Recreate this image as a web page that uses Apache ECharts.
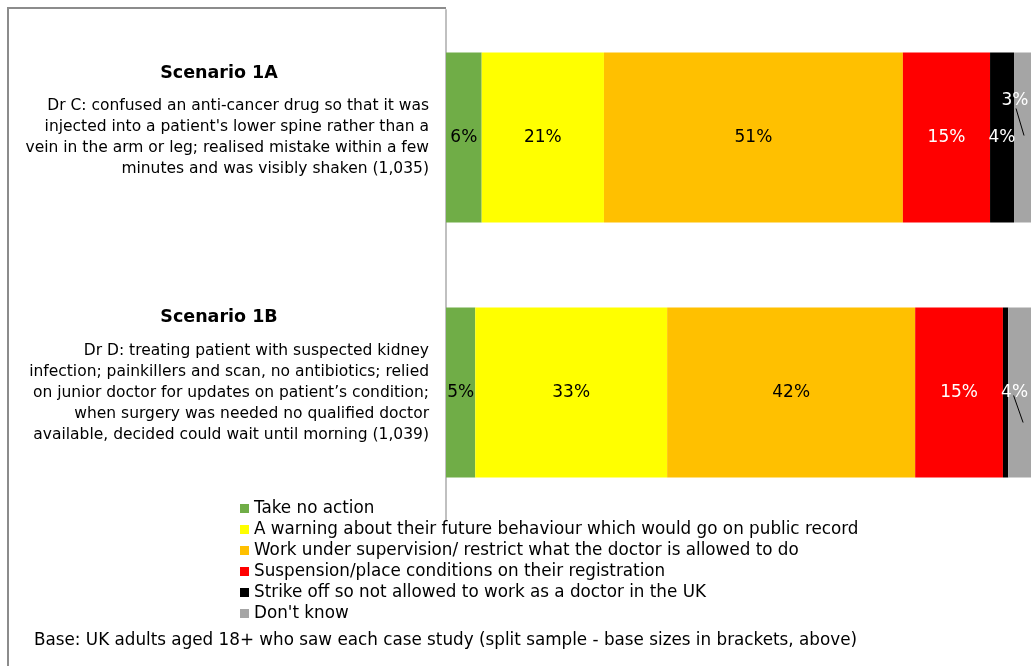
<!DOCTYPE html>
<html>
<head>
<meta charset="utf-8">
<script src="https://cdn.jsdelivr.net/npm/echarts@6/dist/echarts.min.js"></script>
<style>
  html, body { margin: 0; padding: 0; background: #fff; }
  #main { width: 1033px; height: 666px; }
</style>
</head>
<body>
<div id="main"></div>
<script>
// scenarios, top to bottom
var categories = ['Scenario 1A', 'Scenario 1B'];
var descriptions = [
  ['Dr C: confused an anti-cancer drug so that it was',
   "injected into a patient's lower spine rather than a",
   'vein in the arm or leg; realised mistake within a few',
   'minutes and was visibly shaken (1,035)'],
  ['Dr D: treating patient with suspected kidney',
   'infection; painkillers and scan, no antibiotics; relied',
   'on junior doctor for updates on patient\u2019s condition;',
   'when surgery was needed no qualified doctor',
   'available, decided could wait until morning (1,039)']
];
var seriesNames = [
  'Take no action',
  'A warning about their future behaviour which would go on public record',
  'Work under supervision/ restrict what the doctor is allowed to do',
  'Suspension/place conditions on their registration',
  'Strike off so not allowed to work as a doctor in the UK',
  "Don't know"
];
// % per response, one array per scenario
var values1A = [6.1, 20.9, 51.1, 14.9, 4.1, 2.9];
var values1B = [5.0, 32.8, 42.4, 15.0, 0.9, 3.9];
var baseNote = 'Base: UK adults aged 18+ who saw each case study (split sample - base sizes in brackets, above)';

var colors = ['#70AD47', '#FFFF00', '#FFC000', '#FF0000', '#000000', '#A5A5A5'];
var labelColors = ['#000', '#000', '#000', '#fff', '#fff', '#fff'];
var font = '"DejaVu Sans", Verdana, sans-serif';

// the "Don't know" labels are moved off the bar and get a leader line
var moved = [
  { offset: [-7.5, -37], from: [-6.5, -29], to: [1.5, -2] },
  { offset: [-5, 0], from: [-6, 3], to: [3.5, 30] }
];

var chart = echarts.init(document.getElementById('main'));

var series = seriesNames.map(function (name, i) {
  return {
    name: name,
    type: 'bar',
    stack: 'total',
    barCategoryGap: '33.3%',
    itemStyle: { color: colors[i] },
    label: {
      show: true,
      position: 'inside',
      color: labelColors[i],
      fontFamily: font,
      fontSize: 17,
      formatter: function (p) {
        return p.value < 1 ? '' : Math.round(p.value) + '%';
      }
    },
    data: [values1A[i], values1B[i]].map(function (v, k) {
      if (i === 5) return { value: v, label: { offset: moved[k].offset } };
      return v;
    })
  };
});

var option = {
  animation: false,
  backgroundColor: '#fff',
  textStyle: { fontFamily: font },
  grid: { left: 446, right: 2, top: 10, bottom: 146 },
  legend: {
    orient: 'vertical',
    left: 240,
    top: 500,
    icon: 'rect',
    itemWidth: 9,
    itemHeight: 9,
    itemGap: 4,
    padding: 0,
    selectedMode: false,
    textStyle: { fontFamily: font, fontSize: 16.8, color: '#000', lineHeight: 17 },
    data: seriesNames
  },
  title: {
    text: baseNote,
    left: 34,
    top: 632,
    padding: 0,
    textStyle: { fontFamily: font, fontSize: 16.8, fontWeight: 'normal', color: '#000' }
  },
  xAxis: {
    type: 'value',
    min: 0,
    max: 100,
    show: false
  },
  yAxis: {
    type: 'category',
    inverse: true,
    data: categories,
    axisLine: { lineStyle: { color: '#c0c0c0', width: 2 } },
    axisTick: { length: 5, lineStyle: { color: '#c0c0c0', width: 1 } },
    axisLabel: {
      margin: 17,
      padding: [0, 0, 45, 0],
      formatter: function (val, idx) {
        var lines = ['{t|' + val + '}'];
        descriptions[idx].forEach(function (l) { lines.push('{d|' + l + '}'); });
        return lines.join('\n');
      },
      rich: {
        t: { fontFamily: font, fontSize: 17.5, fontWeight: 'bold', color: '#000', lineHeight: 45, align: 'center', width: 420 },
        d: { fontFamily: font, fontSize: 15.5, color: '#000', lineHeight: 21, align: 'right', width: 420 }
      }
    }
  },
  series: series
};

chart.setOption(option);

// outer frame (left and top edges of the original slide box)
var graphics = [{
  type: 'polyline',
  shape: { points: [[446, 8], [8, 8], [8, 666]] },
  style: { stroke: '#8c8c8c', lineWidth: 2, fill: null }
}];

// leader lines for the moved "Don't know" labels
[values1A, values1B].forEach(function (vals, k) {
  var before = 0;
  for (var j = 0; j < 5; j++) before += vals[j];
  var c = chart.convertToPixel({ gridIndex: 0 }, [before + vals[5] / 2, k]);
  graphics.push({
    type: 'line',
    shape: {
      x1: c[0] + moved[k].from[0], y1: c[1] + moved[k].from[1],
      x2: c[0] + moved[k].to[0], y2: c[1] + moved[k].to[1]
    },
    style: { stroke: '#000', lineWidth: 1 },
    z: 10
  });
});

chart.setOption({ graphic: graphics });
</script>
</body>
</html>
